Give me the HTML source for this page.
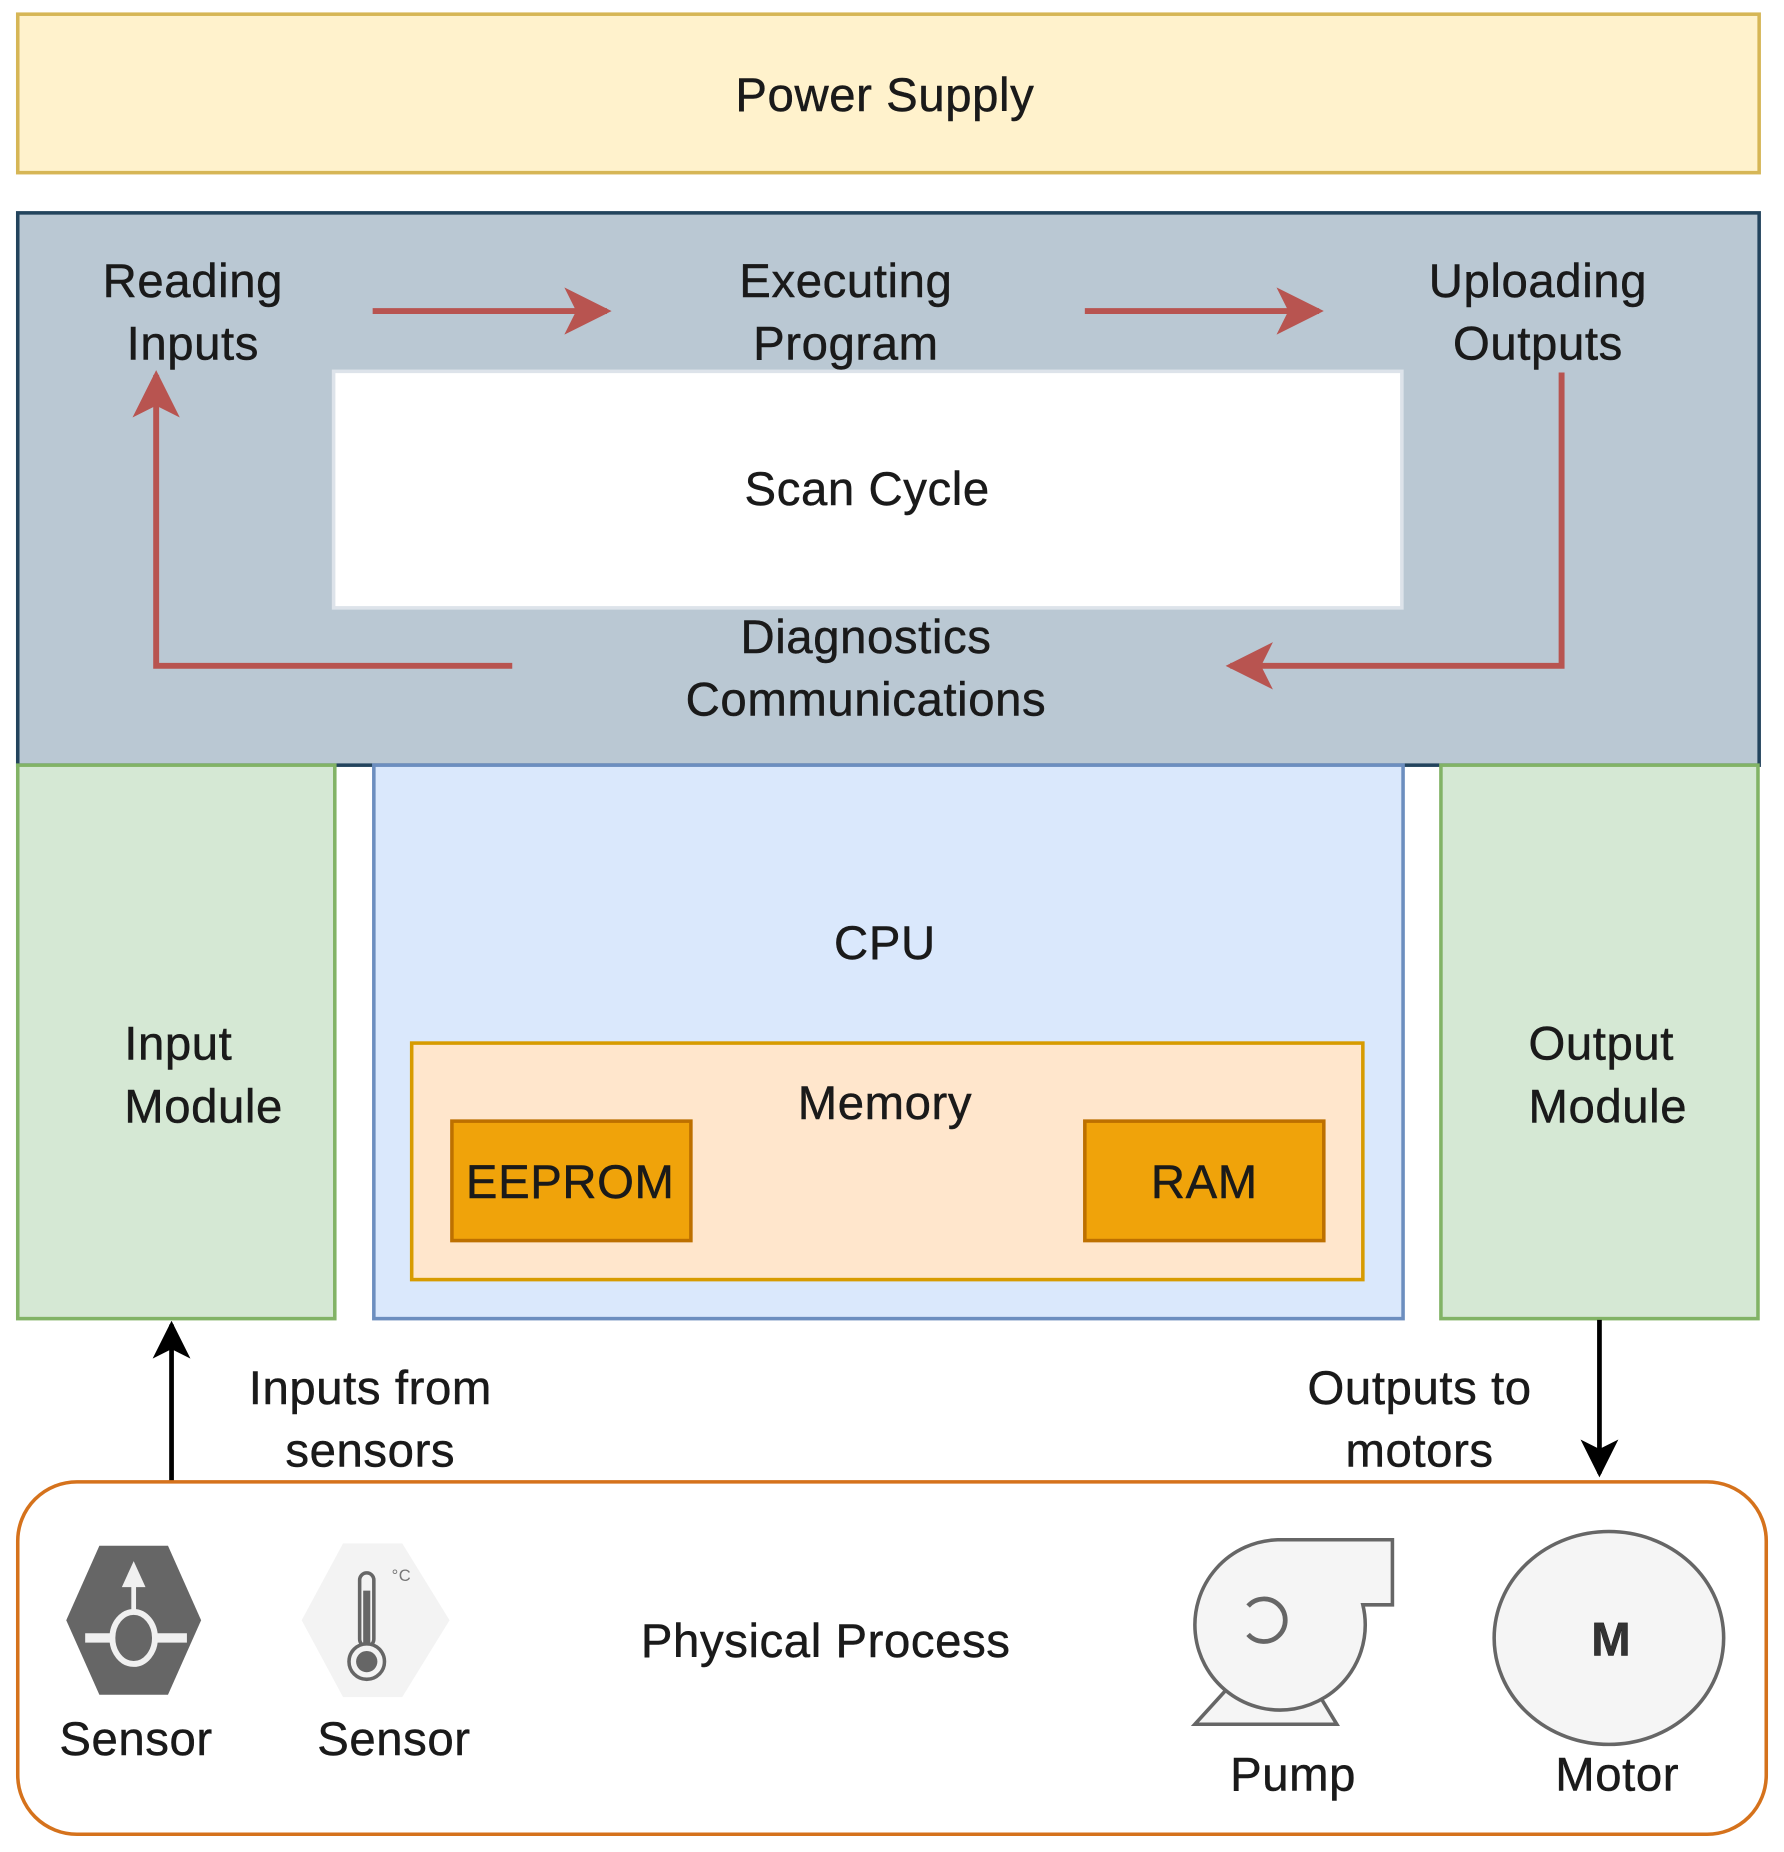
<!DOCTYPE html>
<html><head><meta charset="utf-8"><style>
html,body{margin:0;padding:0;background:#fff;}
svg{display:block;}
text{font-family:"Liberation Sans",sans-serif;fill:#1a1a1a;letter-spacing:0.5px;stroke:#1a1a1a;stroke-width:0.4px;}
</style></head><body>
<svg width="1784" height="1852" viewBox="0 0 1508 1566" preserveAspectRatio="none" xmlns="http://www.w3.org/2000/svg">
<defs>
<marker id="ra" viewBox="0 0 10 10" refX="9" refY="5" markerWidth="8" markerHeight="8" orient="auto" markerUnits="strokeWidth"><path d="M0,0 L10,5 L0,10 L2.5,5 Z" fill="#b85450"/></marker>
<marker id="ba" viewBox="0 0 10 10" refX="9" refY="5" markerWidth="8" markerHeight="8" orient="auto" markerUnits="strokeWidth"><path d="M0,0 L10,5 L0,10 L2.5,5 Z" fill="#000"/></marker>
</defs>
<rect x="15" y="12" width="1472" height="134" fill="#fff2cc" stroke="#d6b656" stroke-width="3"/>
<text x="748" y="94" font-size="40" text-anchor="middle">Power Supply</text>

<rect x="15" y="180" width="1472" height="467" fill="#bac8d3" stroke="#23445d" stroke-width="3"/>
<rect x="282" y="314" width="903" height="200" fill="#fff" stroke="#dde3ea" stroke-width="3"/>
<text x="733" y="427" font-size="40" text-anchor="middle">Scan Cycle</text>
<g font-size="40" text-anchor="middle">
<text x="163" y="251">Reading</text><text x="163" y="304">Inputs</text>
<text x="715" y="251">Executing</text><text x="715" y="304">Program</text>
<text x="1300" y="251">Uploading</text><text x="1300" y="304">Outputs</text>
<text x="732" y="552">Diagnostics</text><text x="732" y="605">Communications</text>
</g>
<g stroke="#b85450" stroke-width="5" fill="none">
<line x1="315" y1="263" x2="513" y2="263" marker-end="url(#ra)"/>
<line x1="917" y1="263" x2="1115" y2="263" marker-end="url(#ra)"/>
<polyline points="1320,315 1320,563 1040,563" marker-end="url(#ra)"/>
<polyline points="433,563 132,563 132,317" marker-end="url(#ra)"/>
</g>

<rect x="15" y="647" width="268" height="468" fill="#d5e8d4" stroke="#82b366" stroke-width="3"/>
<text x="105" y="896" font-size="40">Input</text><text x="105" y="949" font-size="40">Module</text>
<rect x="316" y="647" width="870" height="468" fill="#dae8fc" stroke="#6c8ebf" stroke-width="3"/>
<text x="748" y="811" font-size="40" text-anchor="middle">CPU</text>
<rect x="348" y="882" width="804" height="200" fill="#ffe6cc" stroke="#d79b00" stroke-width="3"/>
<text x="748" y="946" font-size="40" text-anchor="middle">Memory</text>
<rect x="382" y="948" width="202" height="101" fill="#f0a30a" stroke="#bd7000" stroke-width="3"/>
<text x="482" y="1013" font-size="40" text-anchor="middle">EEPROM</text>
<rect x="917" y="948" width="202" height="101" fill="#f0a30a" stroke="#bd7000" stroke-width="3"/>
<text x="1018" y="1013" font-size="40" text-anchor="middle">RAM</text>
<rect x="1218" y="647" width="268" height="468" fill="#d5e8d4" stroke="#82b366" stroke-width="3"/>
<text x="1292" y="896" font-size="40">Output</text><text x="1292" y="949" font-size="40">Module</text>

<line x1="145" y1="1258" x2="145" y2="1120" stroke="#000" stroke-width="4" marker-end="url(#ba)"/>
<line x1="1352" y1="1116" x2="1352" y2="1246" stroke="#000" stroke-width="4" marker-end="url(#ba)"/>
<g font-size="40" text-anchor="middle">
<text x="313" y="1187">Inputs from</text><text x="313" y="1240">sensors</text>
<text x="1200" y="1187">Outputs to</text><text x="1200" y="1240">motors</text>
</g>

<rect x="15" y="1253" width="1478" height="298" rx="50" fill="#fff" stroke="#d5721c" stroke-width="3"/>
<text x="698" y="1401" font-size="40" text-anchor="middle">Physical Process</text>

<polygon points="84,1307 142,1307 170,1370 142,1433 84,1433 56,1370" fill="#666"/>
<line x1="72" y1="1385" x2="158" y2="1385" stroke="#f0f0f0" stroke-width="8"/>
<ellipse cx="113" cy="1385" rx="18" ry="22" fill="#666" stroke="#f0f0f0" stroke-width="5"/>
<line x1="113" y1="1362" x2="113" y2="1340" stroke="#f0f0f0" stroke-width="4"/>
<polygon points="113,1320 103,1342 123,1342" fill="#f0f0f0"/>
<text x="115" y="1484" font-size="40" text-anchor="middle">Sensor</text>

<polygon points="290,1305 340,1305 380,1370 340,1435 290,1435 255,1370" fill="#f3f3f3"/>
<rect x="304" y="1330" width="12" height="62" rx="6" fill="#f3f3f3" stroke="#666" stroke-width="3"/>
<rect x="307" y="1345" width="6" height="50" fill="#666"/>
<circle cx="310" cy="1405" r="15" fill="#f3f3f3" stroke="#666" stroke-width="3"/>
<circle cx="310" cy="1405" r="9" fill="#666"/>
<text x="331" y="1337" font-size="14" style="fill:#777;stroke:none">°C</text>
<text x="333" y="1484" font-size="40" text-anchor="middle">Sensor</text>

<g stroke="#666" stroke-width="3" fill="#f5f5f5">
<polygon points="1010,1458 1130,1458 1110,1425 1040,1425"/>
<path d="M1080,1302 L1177,1302 L1177,1357 L1152,1357 A72,72 0 1 1 1080,1302 Z"/>
<path d="M1055,1358 A18,18 0 1 1 1055,1382" fill="none" stroke-width="4"/>
</g>
<text x="1093" y="1514" font-size="40" text-anchor="middle">Pump</text>

<ellipse cx="1360" cy="1385" rx="97" ry="90" fill="#f5f5f5" stroke="#666" stroke-width="3"/>
<text x="1362" y="1400" font-size="40" font-weight="bold" text-anchor="middle" style="fill:#333">M</text>
<text x="1367" y="1514" font-size="40" text-anchor="middle">Motor</text>
</svg>
</body></html>
